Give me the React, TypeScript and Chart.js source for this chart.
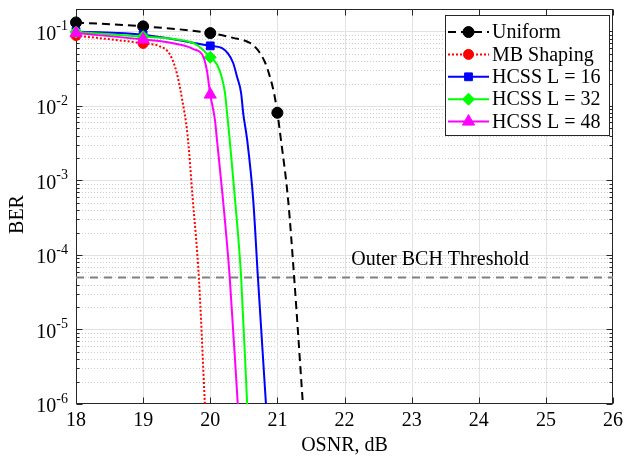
import React, { useEffect, useRef } from 'react';
import { Chart, registerables } from 'chart.js';
Chart.register(...registerables);

// ---------- data ----------
const xTicks = [18, 19, 20, 21, 22, 23, 24, 25, 26];
const yDecades = [-6, -5, -4, -3, -2, -1];
const X_MIN = 18;
const X_MAX = 26;
const Y_MIN = 1e-6;
const Y_MAX = 0.2;

const seriesNames = ['Uniform', 'MB Shaping', 'HCSS L = 16', 'HCSS L = 32', 'HCSS L = 48'];

const uniformX = [18, 19, 20, 20.34, 20.59, 20.71, 20.82, 20.89, 20.95, 21, 21.05, 21.16, 21.25, 21.38];
const uniformY = [0.132, 0.117, 0.095, 0.082, 0.07, 0.056, 0.0377, 0.0244, 0.0149, 0.0081, 0.0037, 5.5e-4, 5e-5, 1e-6];

const mbX = [18, 19, 19.25, 19.4, 19.5, 19.58, 19.66, 19.74, 19.83, 19.92];
const mbY = [0.088, 0.069, 0.063, 0.049, 0.028, 0.0124, 0.0042, 5.5e-4, 5e-5, 1e-6];

const hcss16X = [18, 19, 20, 20.17, 20.26, 20.34, 20.4, 20.46, 20.49, 20.55, 20.64, 20.71, 20.83];
const hcss16Y = [0.1, 0.09, 0.064, 0.06, 0.051, 0.038, 0.0245, 0.0149, 0.0081, 0.0035, 5.5e-4, 5e-5, 1e-6];

const hcss32X = [18, 19, 19.5, 19.8, 20, 20.1, 20.17, 20.22, 20.25, 20.29, 20.37, 20.46, 20.55];
const hcss32Y = [0.098, 0.085, 0.078, 0.066, 0.045, 0.036, 0.0245, 0.0149, 0.0081, 0.0035, 5.5e-4, 5e-5, 1e-6];

const hcss48X = [18, 19, 19.5, 19.75, 19.9, 19.95, 20, 20.07, 20.1, 20.19, 20.29, 20.41];
const hcss48Y = [0.095, 0.078, 0.068, 0.058, 0.045, 0.03, 0.0142, 0.0065, 0.0035, 5.5e-4, 5e-5, 1e-6];

const thresholdBER = 5e-5;
const thresholdLabel = 'Outer BCH Threshold';
const thresholdLabelX = 22.1;
const thresholdLabelY = 8.5e-5;

const xTitle = 'OSNR, dB';
const yTitle = 'BER';

// ---------- styles ----------
const FONT = '"Liberation Serif", "Times New Roman", serif';
const seriesStyles = [
  { color: '#000000', dash: [8, 5], marker: 'circle', radius: 5.5 },
  { color: '#ff0000', dash: [2, 2], marker: 'circle', radius: 5 },
  { color: '#0000ff', dash: [], marker: 'rect', radius: 5.5 },
  { color: '#00ff00', dash: [], marker: 'rectRot', radius: 6 },
  { color: '#ff00ff', dash: [], marker: 'triangle', radius: 7 },
];
const seriesX = [uniformX, mbX, hcss16X, hcss32X, hcss48X];
const seriesY = [uniformY, mbY, hcss16Y, hcss32Y, hcss48Y];

function drawMarker(ctx: CanvasRenderingContext2D, kind: string, x: number, y: number, r: number, color: string) {
  ctx.save();
  ctx.setLineDash([]);
  ctx.fillStyle = color;
  ctx.strokeStyle = color;
  ctx.lineWidth = 1;
  ctx.beginPath();
  if (kind === 'circle') {
    ctx.arc(x, y, r, 0, Math.PI * 2);
  } else if (kind === 'rect') {
    const s = r * Math.SQRT1_2;
    ctx.rect(x - s, y - s, 2 * s, 2 * s);
  } else if (kind === 'rectRot') {
    ctx.moveTo(x, y - r);
    ctx.lineTo(x + r, y);
    ctx.lineTo(x, y + r);
    ctx.lineTo(x - r, y);
    ctx.closePath();
  } else if (kind === 'triangle') {
    const h = r * 1.5;
    const w = r * Math.sqrt(3) / 2;
    ctx.moveTo(x, y - r);
    ctx.lineTo(x + w, y + h - r);
    ctx.lineTo(x - w, y + h - r);
    ctx.closePath();
  }
  ctx.fill();
  ctx.stroke();
  ctx.restore();
}

const matlabPlugin = {
  id: 'matlabStyle',
  beforeDatasetsDraw(chart: any) {
    const { ctx, chartArea: a, scales } = chart;
    const xs = scales.x;
    const ys = scales.y;
    const hl = (py: number) => { ctx.beginPath(); ctx.moveTo(a.left, py); ctx.lineTo(a.right, py); ctx.stroke(); };
    ctx.save();
    ctx.lineWidth = 1;
    // minor y grid (dotted)
    ctx.strokeStyle = '#cdcdcd';
    ctx.setLineDash([1, 2]);
    for (const k of yDecades) {
      for (let m = 2; m <= 9; m++) {
        const v = m * Math.pow(10, k);
        if (v >= Y_MAX) continue;
        hl(Math.round(ys.getPixelForValue(v)) + 0.5);
      }
    }
    ctx.setLineDash([]);
    ctx.strokeStyle = '#e2e2e2';
    for (const k of yDecades) {
      const v = Math.pow(10, k);
      if (v <= Y_MIN) continue;
      hl(Math.round(ys.getPixelForValue(v)) + 0.5);
    }
    for (const t of xTicks) {
      if (t === X_MIN || t === X_MAX) continue;
      const px = Math.round(xs.getPixelForValue(t)) + 0.5;
      ctx.beginPath(); ctx.moveTo(px, a.top); ctx.lineTo(px, a.bottom); ctx.stroke();
    }
    // box
    ctx.strokeStyle = '#262626';
    const L = Math.round(a.left) + 0.5, R = Math.round(a.right) - 0.5, T = Math.round(a.top) + 0.5, B = Math.round(a.bottom) - 0.5;
    ctx.strokeRect(L, T, R - L, B - T);
    // x ticks
    for (const t of xTicks) {
      const px = Math.round(xs.getPixelForValue(t)) + 0.5;
      ctx.beginPath();
      ctx.moveTo(px, B); ctx.lineTo(px, B - 6);
      ctx.moveTo(px, T); ctx.lineTo(px, T + 6);
      ctx.stroke();
    }
    // y ticks
    for (const k of yDecades) {
      for (let m = 1; m <= 9; m++) {
        const v = m * Math.pow(10, k);
        if (v > Y_MAX) continue;
        const py = Math.round(ys.getPixelForValue(v)) + 0.5;
        const len = m === 1 ? 6 : 3;
        ctx.beginPath();
        ctx.moveTo(L, py); ctx.lineTo(L + len, py);
        ctx.moveTo(R, py); ctx.lineTo(R - len, py);
        ctx.stroke();
      }
    }
    ctx.restore();
  },
  afterDatasetsDraw(chart: any) {
    const { ctx, chartArea: a, scales } = chart;
    const xs = scales.x;
    const ys = scales.y;
    ctx.save();
    ctx.fillStyle = '#000000';
    // x tick labels
    ctx.font = `20px ${FONT}`;
    ctx.textAlign = 'center';
    ctx.textBaseline = 'middle';
    for (const t of xTicks) {
      ctx.fillText(String(t), xs.getPixelForValue(t), a.bottom + 17);
    }
    // y tick labels 10^k
    for (const k of yDecades) {
      const py = ys.getPixelForValue(Math.pow(10, k));
      ctx.font = `20px ${FONT}`;
      const w10 = ctx.measureText('10').width;
      ctx.font = `14px ${FONT}`;
      const sup = '-' + String(-k);
      const ws = ctx.measureText(sup).width;
      const x0 = a.left - 8 - w10 - ws;
      ctx.font = `20px ${FONT}`;
      ctx.textAlign = 'left';
      ctx.textBaseline = 'middle';
      ctx.fillText('10', x0, py + 3);
      ctx.font = `14px ${FONT}`;
      ctx.textBaseline = 'alphabetic';
      ctx.fillText(sup, x0 + w10, py - 1);
    }
    // axis titles
    ctx.font = `20px ${FONT}`;
    ctx.textAlign = 'center';
    ctx.textBaseline = 'middle';
    ctx.fillText(xTitle, (a.left + a.right) / 2, a.bottom + 42);
    ctx.save();
    ctx.translate(18, (a.top + a.bottom) / 2 + 8);
    ctx.rotate(-Math.PI / 2);
    ctx.fillText(yTitle, 0, 0);
    ctx.restore();
    // threshold label
    ctx.textAlign = 'left';
    ctx.fillText(thresholdLabel, xs.getPixelForValue(thresholdLabelX), ys.getPixelForValue(thresholdLabelY));
    // legend
    const lx = 445.5, ly = 15.5, lw = 164, lh = 120;
    ctx.fillStyle = '#ffffff';
    ctx.fillRect(lx, ly, lw, lh);
    ctx.strokeStyle = '#262626';
    ctx.lineWidth = 1;
    ctx.strokeRect(lx, ly, lw, lh);
    seriesNames.forEach((name, i) => {
      const st = seriesStyles[i];
      const ry = 32 + i * 22.4;
      ctx.save();
      ctx.strokeStyle = st.color;
      ctx.lineWidth = 2;
      ctx.setLineDash(st.dash);
      ctx.beginPath();
      ctx.moveTo(448, ry);
      ctx.lineTo(489, ry);
      ctx.stroke();
      ctx.restore();
      drawMarker(ctx, st.marker, 468.5, ry, st.radius, st.color);
      ctx.fillStyle = '#000000';
      ctx.font = `20px ${FONT}`;
      ctx.textAlign = 'left';
      ctx.textBaseline = 'middle';
      ctx.fillText(name, 492, ry + 1);
    });
    ctx.restore();
  },
};

export default function App() {
  const ref = useRef<HTMLCanvasElement | null>(null);
  useEffect(() => {
    if (!ref.current) return;
    const datasets: any[] = seriesNames.map((name, i) => {
      const st = seriesStyles[i];
      return {
        label: name,
        data: seriesX[i].map((x, j) => ({ x, y: seriesY[i][j] })),
        borderColor: st.color,
        backgroundColor: st.color,
        borderWidth: 2,
        borderDash: st.dash,
        cubicInterpolationMode: 'monotone',
        pointStyle: st.marker,
        pointRadius: (c: any) => (c.raw && Number.isInteger(c.raw.x) ? st.radius : 0),
        pointBorderWidth: 1,
        pointBorderColor: st.color,
        pointBackgroundColor: st.color,
        pointHoverRadius: 0,
        order: 5 - i,
        clip: { left: 10, top: 10, right: 10, bottom: 0 },
      };
    });
    datasets.push({
      label: 'threshold',
      data: [{ x: X_MIN, y: thresholdBER }, { x: X_MAX, y: thresholdBER }],
      borderColor: '#808080',
      borderWidth: 2,
      borderDash: [8, 6],
      pointRadius: 0,
      order: 10,
    });
    const chart = new Chart(ref.current, {
      type: 'line',
      data: { datasets },
      options: {
        animation: false,
        responsive: false,
        events: [],
        layout: { padding: { top: 9, right: 11, left: 0, bottom: 0 } },
        plugins: { legend: { display: false }, tooltip: { enabled: false } },
        scales: {
          x: {
            type: 'linear', min: X_MIN, max: X_MAX,
            ticks: { display: false }, grid: { display: false }, border: { display: false },
            afterFit: (s: any) => { s.height = 58; },
          },
          y: {
            type: 'logarithmic', min: Y_MIN, max: Y_MAX,
            ticks: { display: false }, grid: { display: false }, border: { display: false },
            afterFit: (s: any) => { s.width = 76; },
          },
        },
      } as any,
      plugins: [matlabPlugin],
    });
    return () => chart.destroy();
  }, []);
  return (
    <div style={{ position: 'fixed', left: 0, top: 0, width: 624, height: 462, background: '#fff' }}>
      <canvas ref={ref} width={624} height={462} style={{ display: 'block' }} />
    </div>
  );
}
